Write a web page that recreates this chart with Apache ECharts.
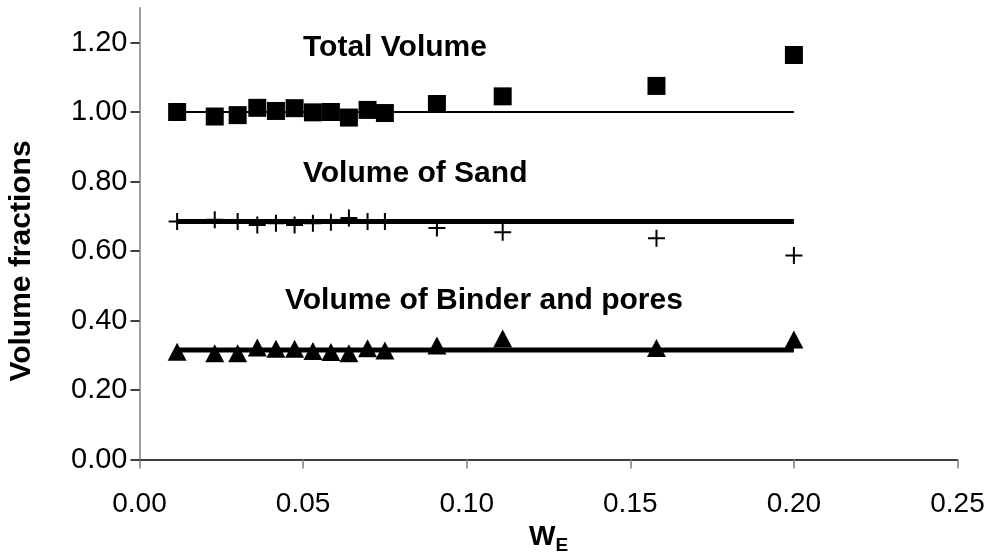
<!DOCTYPE html>
<html>
<head>
<meta charset="utf-8">
<script src="https://cdn.jsdelivr.net/npm/echarts@6/dist/echarts.min.js"></script>
<style>html,body{margin:0;padding:0;background:#fff}#c{width:992px;height:560px}</style>
</head>
<body>
<div id="c"></div>
<script>
// W_E values (x)
const wE = [0.0115, 0.023, 0.030, 0.036, 0.0417, 0.0474, 0.053, 0.0585, 0.064, 0.0697, 0.075, 0.0909, 0.111, 0.158, 0.200];
// Total volume fraction
const totalVol = [1.000, 0.987, 0.991, 1.012, 1.003, 1.011, 0.999, 1.000, 0.984, 1.006, 0.997, 1.023, 1.045, 1.075, 1.164];
// Volume of sand
const sandVol = [0.685, 0.690, 0.685, 0.675, 0.680, 0.675, 0.680, 0.683, 0.695, 0.685, 0.685, 0.666, 0.654, 0.637, 0.587];
// Volume of binder and pores
const binderVol = [0.310, 0.306, 0.306, 0.322, 0.319, 0.319, 0.312, 0.309, 0.306, 0.320, 0.314, 0.328, 0.348, 0.321, 0.345];
// Reference (constant) levels
const totalLevel = 1.00;
const sandLevel = 0.685;
const binderLevel = 0.315;
// Tick values
const xTicks = [0, 0.05, 0.10, 0.15, 0.20, 0.25];
const yTicks = [0, 0.2, 0.4, 0.6, 0.8, 1.0, 1.2];
// Texts
const labelTotal = 'Total Volume';
const labelSand = 'Volume of Sand';
const labelBinder = 'Volume of Binder and pores';
const yTitle = 'Volume fractions';

const FONT = '"Liberation Sans", Arial, sans-serif';
const pts = (ys) => wE.map((x, i) => [x, ys[i]]);
const levelLine = (v) => [[wE[0], v], [wE[wE.length - 1], v]];

const chart = echarts.init(document.getElementById('c'), null, {renderer: 'canvas'});
chart.setOption({
  animation: false,
  backgroundColor: '#fff',
  grid: {left: 139.5, right: 34.5, top: 7.75, bottom: 100.5, containLabel: false, outerBoundsMode: 'none'},
  xAxis: {
    type: 'value', min: 0, max: 0.25, interval: 0.05,
    splitLine: {show: false},
    axisLine: {lineStyle: {color: '#000', width: 1.5}},
    axisTick: {show: true, length: 9, customValues: xTicks, lineStyle: {color: '#808080', width: 1.5}},
    axisLabel: {margin: 31, customValues: xTicks, fontFamily: FONT, fontSize: 28, color: '#000', formatter: (v) => v.toFixed(2)},
    name: '{w|W}{e|E}', nameLocation: 'middle', nameGap: 57,
    nameTextStyle: {rich: {
      w: {fontFamily: FONT, fontSize: 28, fontWeight: 'bold', color: '#000'},
      e: {fontFamily: FONT, fontSize: 19, fontWeight: 'bold', color: '#000', padding: [16, 0, 0, 0]}
    }}
  },
  yAxis: {
    type: 'value', min: 0, max: 1.3,
    splitLine: {show: false},
    axisLine: {onZero: false, lineStyle: {color: '#808080', width: 1.5}},
    axisTick: {show: true, length: 9, customValues: yTicks, lineStyle: {color: '#000', width: 1.5}},
    axisLabel: {margin: 12, customValues: yTicks, fontFamily: FONT, fontSize: 29, color: '#000', formatter: (v) => v.toFixed(2)}
  },
  graphic: [
    {type: 'text', x: 303, y: 48, style: {text: labelTotal, font: 'bold 30px ' + FONT, fill: '#000', textAlign: 'left', textVerticalAlign: 'middle'}},
    {type: 'text', x: 303, y: 174, style: {text: labelSand, font: 'bold 30px ' + FONT, fill: '#000', textAlign: 'left', textVerticalAlign: 'middle'}},
    {type: 'text', x: 285, y: 301, style: {text: labelBinder, font: 'bold 30px ' + FONT, fill: '#000', textAlign: 'left', textVerticalAlign: 'middle'}},
    {type: 'text', x: 22, y: 261, rotation: Math.PI / 2, style: {text: yTitle, font: 'bold 30px ' + FONT, fill: '#000', textAlign: 'center', textVerticalAlign: 'middle'}}
  ],
  series: [
    {type: 'line', data: levelLine(totalLevel), symbol: 'none', lineStyle: {color: '#000', width: 2}, z: 1},
    {type: 'line', data: levelLine(sandLevel), symbol: 'none', lineStyle: {color: '#000', width: 5}, z: 1},
    {type: 'line', data: levelLine(binderLevel), symbol: 'none', lineStyle: {color: '#000', width: 5}, z: 1},
    {type: 'scatter', data: pts(totalVol), symbol: 'rect', symbolSize: 18, itemStyle: {color: '#000', opacity: 1}, z: 3},
    {type: 'scatter', data: pts(sandVol), symbol: 'path://M0,8L16,8M8,0L8,16', symbolSize: 17,
      itemStyle: {color: 'rgba(0,0,0,0)', borderColor: '#000', borderWidth: 2, opacity: 1}, z: 3},
    {type: 'scatter', data: pts(binderVol), symbol: 'triangle', symbolSize: [19, 18], itemStyle: {color: '#000', opacity: 1}, z: 3}
  ]
});
</script>
</body>
</html>
